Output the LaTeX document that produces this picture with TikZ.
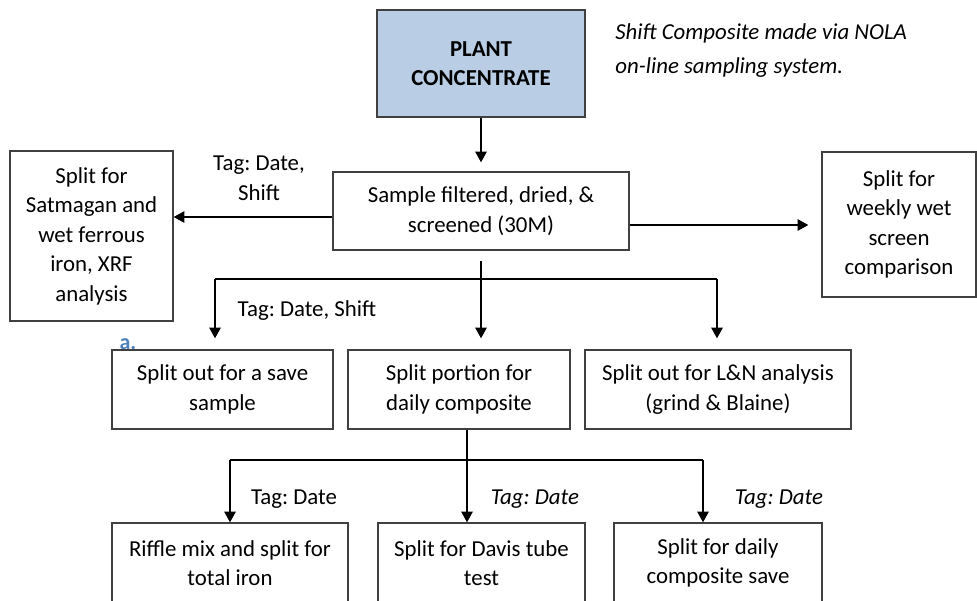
\documentclass[tikz,border=0pt]{standalone}
\usepackage{fontspec}
\setmainfont{Carlito}
\usepackage{tikz}
\usetikzlibrary{arrows.meta}
\definecolor{plantblue}{RGB}{185,205,228}
\definecolor{noteblue}{RGB}{79,129,189}
\newlength\px
\setlength\px{0.02cm}
\newcommand{\boxfont}{\fontsize{13}{16.8}\selectfont}
\frenchspacing

\begin{document}
\begin{tikzpicture}[x=0.02cm, y=-0.02cm,
        box/.style={draw=black!75, line width=0.85pt, fill=white, align=center, inner sep=0pt, font=\boxfont},
        tag/.style={align=center, inner sep=0pt, font=\boxfont},
        arr/.style={-{Triangle[length=6pt,width=6.5pt]}, line width=0.6pt}]
            \clip (0,0) rectangle (977,600);

            \node[tag, font=\fontsize{12.5}{14}\selectfont\bfseries, text=noteblue] (mark) at (128,344.5) {a.};

            \node[box, fill=plantblue, font=\boxfont\bfseries, minimum width=208\px, minimum height=107\px] (plant) at (481,63.5) {PLANT\\CONCENTRATE};
            \node[box, minimum width=296\px, minimum height=78\px] (sample) at (481,211) {Sample filtered, dried, \&\\screened (30M)};
            \node[box, minimum width=163\px, minimum height=170\px] (satmag) at (91.5,236) {Split for\\Satmagan and\\wet ferrous\\iron, XRF\\analysis};
            \node[box, minimum width=154\px, minimum height=145\px] (weekly) at (899,224.5) {Split for\\weekly wet\\screen\\comparison};

            \node[box, minimum width=221\px, minimum height=79\px] (save) at (222.5,389.5) {Split out for a save\\sample};
            \node[box, minimum width=222\px, minimum height=79\px] (daily) at (459,389.5) {Split portion for\\daily composite};
            \node[box, minimum width=266\px, minimum height=79\px] (ln) at (718,389.5) {Split out for L\&N analysis\\(grind \& Blaine)};

            \node[box, minimum width=236\px, minimum height=80\px] (riffle) at (230,563) {Riffle mix and split for\\total iron};
            \node[box, minimum width=207\px, minimum height=80\px] (davis) at (481.5,563) {Split for Davis tube\\test};
            \node[box, minimum width=208\px, minimum height=80\px] (dsave) at (718,563) {Split for daily\\composite save};

            \node[tag, font=\fontsize{13}{19.8}\selectfont\itshape, align=left, anchor=west] (note) at (615,50.5) {Shift Composite made via NOLA\\on-line sampling system.};
            \node[tag] (tagone) at (259,178) {Tag: Date,\\Shift};
            \node[tag] (tagtwo) at (307,311) {Tag: Date, Shift};
            \node[tag] (tagthree) at (294,499) {Tag: Date};
            \node[tag, font=\boxfont\itshape] (tagfour) at (535,499) {Tag: Date};
            \node[tag, font=\boxfont\itshape] (tagfive) at (779,499) {Tag: Date};

            \coordinate (lrow) at (0,217);
            \coordinate (rrow) at (0,225);
            \coordinate (mleft) at (215,279);
            \coordinate (mright) at (717,279);
            \coordinate (lbar) at (467,460);
            \coordinate (lleft) at (230,460);
            \coordinate (lright) at (703,460);

            \draw[arr, shorten >=9\px] (plant) -- (sample);
            \draw[arr] (sample.west |- lrow) -- (satmag.east |- lrow);
            \draw[arr, shorten >=13\px] (sample.east |- rrow) -- (weekly.west |- rrow);

            \draw[arr, shorten <=10\px, shorten >=11\px] (sample.south) -- (sample.south |- daily.north);
            \draw[line width=0.6pt] (mleft) -- (mright);
            \draw[arr, shorten >=11\px] (mleft) -- (mleft |- save.north);
            \draw[arr, shorten >=11\px] (mright) -- (mright |- ln.north);

            \draw[arr] (lbar |- daily.south) -- (lbar |- davis.north);
            \draw[line width=0.6pt] (lleft) -- (lright);
            \draw[arr] (lleft) -- (lleft |- riffle.north);
            \draw[arr] (lright) -- (lright |- dsave.north);
        \end{tikzpicture}
\end{document}
